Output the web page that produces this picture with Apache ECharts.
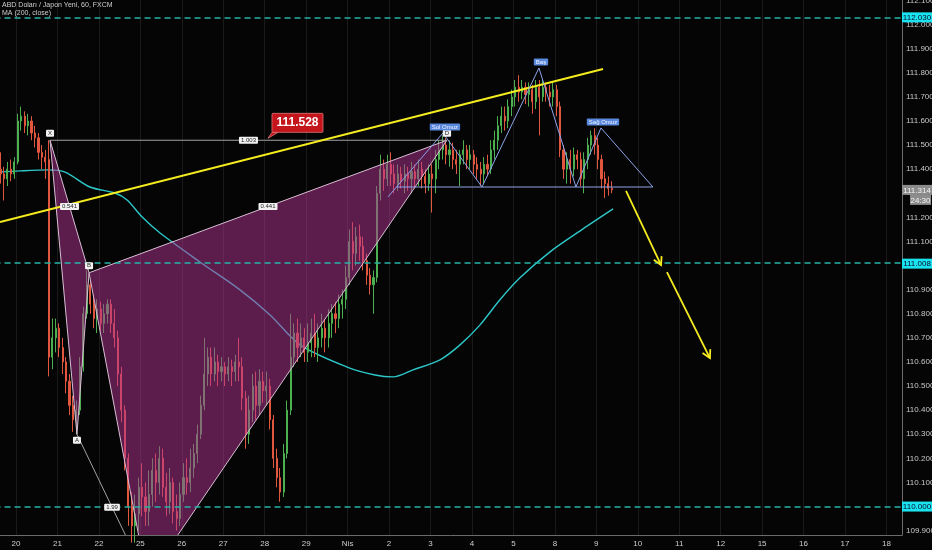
<!DOCTYPE html>
<html><head><meta charset="utf-8">
<script src="https://cdn.jsdelivr.net/npm/echarts@6/dist/echarts.min.js"></script>
<style>html,body{margin:0;padding:0;background:#050505;}#c{width:932px;height:550px;}</style>
</head><body><div id="c"></div>
<script>
const FONT = '"Liberation Sans", Arial, sans-serif';
const dayLabels = ['20','21','22','25','26','27','28','29','Nis','2','3','4','5','8','9','10','11','12','15','16','17','18'];
const priceTicks = [109.9,110.0,110.1,110.2,110.3,110.4,110.5,110.6,110.7,110.8,110.9,111.0,111.1,111.2,111.3,111.4,111.5,111.6,111.7,111.8,111.9,112.0,112.1];
const candleStartHour = -9, candleHours = 2;
// [open, close, low, high]
const candleOHLC = [
[111.40,111.38,111.34,111.47],[111.38,111.36,111.27,111.41],[111.36,111.40,111.33,111.43],[111.40,111.38,111.35,111.44],
[111.38,111.43,111.36,111.45],[111.43,111.60,111.42,111.63],[111.60,111.62,111.56,111.66],[111.62,111.58,111.55,111.64],
[111.58,111.60,111.54,111.63],[111.60,111.55,111.52,111.62],[111.55,111.53,111.49,111.58],[111.53,111.47,111.44,111.55],
[111.47,111.45,111.40,111.50],[111.45,111.43,111.36,111.48],[111.44,110.62,110.54,111.52],[110.62,110.70,110.57,110.78],
[110.70,110.74,110.64,110.78],[110.74,110.66,110.62,110.76],[110.66,110.60,110.55,110.70],[110.60,110.52,110.47,110.62],
[110.52,110.42,110.38,110.55],[110.42,110.36,110.31,110.46],[110.36,110.40,110.30,110.44],[110.40,110.58,110.38,110.62],
[110.58,110.80,110.56,110.83],[110.80,110.92,110.78,110.98],[110.92,110.84,110.80,110.94],[110.84,110.78,110.74,110.88],
[110.78,110.82,110.72,110.86],[110.82,110.76,110.73,110.85],[110.76,110.80,110.72,110.84],[110.80,110.84,110.76,110.86],
[110.84,110.76,110.72,110.86],[110.76,110.70,110.66,110.82],[110.70,110.55,110.50,110.73],[110.55,110.40,110.35,110.58],
[110.40,110.20,110.15,110.42],[110.20,110.00,109.92,110.22],[110.00,109.92,109.85,110.06],[109.92,109.97,109.85,110.05],
[109.97,110.08,109.90,110.12],[110.08,110.04,109.96,110.18],[110.04,109.98,109.92,110.10],[109.98,110.05,109.92,110.15],
[110.05,110.15,110.00,110.20],[110.15,110.10,110.02,110.22],[110.10,110.20,110.05,110.25],[110.20,110.08,110.04,110.24],
[110.08,110.02,109.96,110.14],[110.02,110.10,109.97,110.16],[110.10,109.98,109.93,110.12],[109.98,109.95,109.90,110.05],
[109.95,110.05,109.92,110.10],[110.05,110.12,110.02,110.18],[110.12,110.10,110.05,110.20],[110.10,110.16,110.06,110.24],
[110.16,110.22,110.12,110.26],[110.22,110.30,110.18,110.34],[110.30,110.42,110.28,110.46],[110.42,110.55,110.40,110.70],
[110.55,110.62,110.50,110.66],[110.62,110.55,110.50,110.66],[110.55,110.60,110.52,110.66],[110.60,110.56,110.50,110.63],
[110.56,110.58,110.52,110.62],[110.58,110.55,110.50,110.60],[110.55,110.58,110.52,110.62],[110.58,110.56,110.50,110.61],
[110.56,110.60,110.52,110.63],[110.60,110.58,110.52,110.70],[110.58,110.45,110.40,110.62],[110.45,110.30,110.24,110.48],
[110.30,110.40,110.26,110.46],[110.40,110.50,110.35,110.55],[110.50,110.42,110.36,110.56],[110.42,110.52,110.38,110.57],
[110.52,110.48,110.43,110.56],[110.48,110.50,110.42,110.56],[110.50,110.36,110.32,110.53],[110.36,110.20,110.16,110.38],
[110.20,110.12,110.08,110.24],[110.12,110.06,110.02,110.16],[110.06,110.22,110.04,110.26],[110.22,110.40,110.20,110.44],
[110.40,110.62,110.38,110.80],[110.62,110.72,110.58,110.76],[110.72,110.66,110.60,110.78],[110.66,110.70,110.62,110.76],
[110.70,110.64,110.60,110.74],[110.64,110.68,110.60,110.76],[110.68,110.72,110.62,110.78],[110.72,110.66,110.62,110.80],
[110.66,110.70,110.60,110.76],[110.70,110.74,110.66,110.80],[110.74,110.70,110.64,110.78],[110.70,110.76,110.66,110.82],
[110.76,110.80,110.70,110.84],[110.80,110.78,110.72,110.85],[110.78,110.84,110.74,110.88],[110.84,110.86,110.78,110.90],
[110.86,110.95,110.82,111.00],[110.95,111.10,110.92,111.15],[111.10,111.05,110.98,111.18],[111.05,111.12,111.00,111.16],
[111.12,111.08,111.02,111.17],[111.08,111.02,110.98,111.12],[111.02,110.96,110.92,111.05],[110.96,110.92,110.88,110.99],
[110.92,110.95,110.80,110.98],[110.95,111.30,110.93,111.33],[111.30,111.40,111.27,111.46],[111.40,111.36,111.31,111.44],
[111.36,111.42,111.33,111.46],[111.42,111.38,111.33,111.47],[111.38,111.34,111.30,111.42],[111.34,111.38,111.31,111.42],
[111.38,111.35,111.32,111.41],[111.35,111.38,111.30,111.42],[111.38,111.36,111.31,111.41],[111.36,111.39,111.30,111.43],
[111.39,111.36,111.32,111.42],[111.36,111.40,111.33,111.44],[111.40,111.37,111.32,111.43],[111.37,111.34,111.30,111.40],
[111.34,111.38,111.31,111.42],[111.38,111.36,111.22,111.42],[111.36,111.44,111.30,111.48],[111.44,111.48,111.40,111.52],
[111.48,111.50,111.44,111.54],[111.50,111.46,111.42,111.53],[111.46,111.48,111.41,111.52],[111.48,111.44,111.40,111.51],
[111.44,111.42,111.38,111.48],[111.42,111.46,111.33,111.48],[111.46,111.48,111.42,111.52],[111.48,111.44,111.40,111.50],
[111.44,111.46,111.40,111.50],[111.46,111.42,111.38,111.48],[111.42,111.40,111.36,111.45],[111.40,111.38,111.33,111.43],
[111.38,111.42,111.34,111.45],[111.42,111.40,111.37,111.46],[111.40,111.48,111.38,111.52],[111.48,111.52,111.44,111.56],
[111.52,111.58,111.48,111.62],[111.58,111.62,111.55,111.66],[111.62,111.60,111.56,111.66],[111.60,111.66,111.57,111.69],
[111.66,111.70,111.62,111.73],[111.70,111.74,111.66,111.77],[111.74,111.72,111.68,111.79],[111.72,111.74,111.69,111.77],
[111.74,111.71,111.67,111.76],[111.71,111.73,111.66,111.76],[111.73,111.68,111.63,111.75],[111.68,111.74,111.65,111.77],
[111.74,111.70,111.54,111.77],[111.70,111.74,111.68,111.77],[111.74,111.72,111.68,111.76],[111.72,111.70,111.66,111.75],
[111.70,111.73,111.66,111.76],[111.73,111.66,111.62,111.75],[111.66,111.48,111.45,111.68],[111.48,111.40,111.36,111.50],
[111.40,111.44,111.34,111.47],[111.44,111.40,111.34,111.48],[111.40,111.46,111.37,111.49],[111.46,111.44,111.40,111.48],
[111.44,111.36,111.33,111.47],[111.36,111.44,111.30,111.47],[111.44,111.50,111.40,111.53],[111.50,111.54,111.46,111.56],
[111.54,111.50,111.46,111.57],[111.50,111.44,111.40,111.53],[111.44,111.36,111.32,111.46],[111.36,111.34,111.28,111.39],
[111.34,111.32,111.29,111.37],[111.32,111.314,111.30,111.35]
];
const maTimes  = [-9.26, 2.3, 18.5, 28.4, 42.8, 57.3, 64.3, 73.5, 83.4, 106.5, 129.7, 147.1, 164.5, 191.7, 207.9, 218.3, 229.9, 245.5, 257.1, 268.7, 280.2, 291.8, 309.2, 328.3, 345.7];
const maValues = [111.388,111.393,111.397,111.388,111.326,111.301,111.272,111.198,111.135,111.015,110.899,110.795,110.671,110.579,110.546,110.538,110.567,110.609,110.671,110.754,110.858,110.949,111.057,111.152,111.235];
const levelPrices = [112.030, 111.008, 110.000];
const lastPrice = 111.314;
const countdown = '24:30';
const trendTimes = [-9.26, 339.9];
const trendPrices = [111.181, 111.816];
const xabcdNames = ['X','A','B','C','D'];
const xabcdTimes = [19.7, 35.3, 42.3, 75.9, 249.5];
const xabcdPrices = [111.52, 110.30, 110.97, 109.695, 111.52];
const ratioTexts = ['0.541','1.003','0.441','1.99'];
const hsTimes  = [215.4, 247.2, 269.8, 302.8, 324.2, 338.7, 368.8];
const hsPrices = [111.285, 111.550, 111.326, 111.820, 111.326, 111.571, 111.326];
const neckTimes = [220.6, 368.8];
const neckPrice = 111.326;
const hsNames = ['Sol Omuz','Baş','Sağ Omuz'];
const arrowFromTimes = [353.2, 376.9];
const arrowFromPrices = [111.310, 110.973];
const arrowToTimes = [373.5, 401.8];
const arrowToPrices = [111.002, 110.616];
const calloutTime = 145.9, calloutValue = 111.528;

const chart = echarts.init(document.getElementById('c'), null, {renderer:'canvas'});

function boxText(x, y, text, bg, fg, fs) {
  return {type:'text', x:x, y:y, z2:20, style:{text:text, fill:fg, backgroundColor:bg, padding:[1,2,0,2],
    fontSize:fs, fontFamily:FONT, align:'center', verticalAlign:'middle', borderRadius:1}};
}
function clipRect(params){ const c=params.coordSys; return {type:'rect', shape:{x:c.x,y:c.y,width:c.width,height:c.height}}; }

const candleData = candleOHLC.map((d,i)=>[candleStartHour + candleHours*i, d[0], d[1], d[2], d[3]]);
const pairIdx = [[0,2],[0,4],[2,4],[1,3]];
const placeBelow = [false,true,false,true,false];

const option = {
  backgroundColor:'#050505',
  animation:false,
  title:{text:'ABD Doları / Japon Yeni, 60, FXCM', subtext:'MA (200, close)', left:2, top:2, itemGap:1, padding:0,
    textStyle:{fontSize:7, color:'#cfcfcf', fontWeight:'normal', fontFamily:FONT},
    subtextStyle:{fontSize:7, color:'#cfcfcf', fontFamily:FONT}},
  grid:{left:-25.45, right:30, top:0, bottom:15, containLabel:false, outerBoundsMode:'none'},
  xAxis:{type:'value', min:-24, max:513, interval:24,
    axisLine:{show:true, onZero:false, lineStyle:{color:'#6b6b6b'}}, axisTick:{show:false},
    axisLabel:{color:'#cdcdcd', fontSize:8, margin:5, fontFamily:FONT, showMinLabel:true, showMaxLabel:false,
      formatter:function(v){ const k=Math.round(v/24); return (k>=0 && k<dayLabels.length && Math.abs(v-24*k)<1e-6)? dayLabels[k] : ''; }},
    splitLine:{show:true, lineStyle:{color:'#1a1a1a', width:1}}},
  yAxis:{type:'value', position:'right', min:109.882, max:112.102,
    axisLine:{show:true, onZero:false, lineStyle:{color:'#6b6b6b'}}, axisTick:{show:false}, splitLine:{show:false},
    axisLabel:{customValues:priceTicks, formatter:function(v){return v.toFixed(3);}, color:'#c8c8c8', fontSize:8, margin:4, fontFamily:FONT}},
  series:[
    {type:'candlestick', z:2, data:candleData, encode:{x:0, y:[1,2,3,4]}, barWidth:1.6, clip:true,
      itemStyle:{color:'#4caf50', color0:'#e0563f', borderColor:'#4caf50', borderColor0:'#e0563f', borderWidth:1}},
    {type:'line', z:2, data:maTimes.map((t,i)=>[t,maValues[i]]), symbol:'none', smooth:0.3,
      lineStyle:{color:'#2ec7c9', width:1.4}, silent:true,
      markLine:{silent:true, symbol:'none', label:{show:false},
        lineStyle:{type:[6,4], color:'#27b3a6', width:1.5},
        data:levelPrices.map(v=>({yAxis:v}))}},
    {type:'custom', z:3, data:[[xabcdTimes[0], xabcdPrices[0]]], silent:true,
      renderItem:function(params, api){
        const P = xabcdTimes.map((t,i)=>api.coord([t, xabcdPrices[i]]));
        const tri = (a,b,c)=>({type:'polygon', shape:{points:[P[a],P[b],P[c]]},
          style:{fill:'rgba(180,52,148,0.5)', stroke:'#d9bfd5', lineWidth:1}});
        return {type:'group', clipPath:clipRect(params), children:[tri(0,1,2), tri(2,3,4),
          {type:'line', shape:{x1:P[0][0],y1:P[0][1],x2:P[4][0],y2:P[4][1]}, style:{stroke:'#a3a3a3', lineWidth:1}},
          {type:'line', shape:{x1:P[1][0],y1:P[1][1],x2:P[3][0],y2:P[3][1]}, style:{stroke:'#a3a3a3', lineWidth:1}}
        ]};
      }},
    {type:'line', z:4, data:trendTimes.map((t,i)=>[t,trendPrices[i]]), symbol:'none', silent:true,
      lineStyle:{color:'#f4ec1f', width:2}},
    {type:'line', z:4, data:hsTimes.map((t,i)=>[t,hsPrices[i]]), symbol:'none', silent:true,
      lineStyle:{color:'#8ea4ea', width:1}},
    {type:'line', z:4, data:neckTimes.map(t=>[t,neckPrice]), symbol:'none', silent:true,
      lineStyle:{color:'#8ea4ea', width:1}},
    {type:'custom', z:6, data:[[xabcdTimes[0], xabcdPrices[0]]], silent:true,
      renderItem:function(params, api){
        const P = xabcdTimes.map((t,i)=>api.coord([t, xabcdPrices[i]]));
        const kids = [];
        P.forEach((p,i)=>kids.push(boxText(p[0], p[1] + (placeBelow[i]? 6 : -7), xabcdNames[i], '#f2f2f2', '#222', 6)));
        pairIdx.forEach((pr,k)=>{ const a=P[pr[0]], b=P[pr[1]];
          kids.push(boxText((a[0]+b[0])/2, (a[1]+b[1])/2, ratioTexts[k], '#f2f2f2', '#222', 6)); });
        const H = hsTimes.map((t,i)=>api.coord([t, hsPrices[i]]));
        [1,3,5].forEach((j,k)=>kids.push(boxText(H[j][0]+2, H[j][1]-6, hsNames[k], '#5a88dc', '#eef3ff', 6)));
        return {type:'group', clipPath:clipRect(params), children:kids};
      }},
    {type:'custom', z:6, data:[[arrowToTimes[0], arrowToPrices[0]]], silent:true,
      renderItem:function(params, api){
        const kids=[];
        arrowFromTimes.forEach((t,k)=>{
          const a=api.coord([t, arrowFromPrices[k]]), b=api.coord([arrowToTimes[k], arrowToPrices[k]]);
          const ang=Math.atan2(b[1]-a[1], b[0]-a[0]), L=9, w=0.5;
          const st={stroke:'#f4ec1f', lineWidth:1.8};
          kids.push({type:'line', shape:{x1:a[0],y1:a[1],x2:b[0],y2:b[1]}, style:st});
          kids.push({type:'polyline', shape:{points:[[b[0]-L*Math.cos(ang-w), b[1]-L*Math.sin(ang-w)], b, [b[0]-L*Math.cos(ang+w), b[1]-L*Math.sin(ang+w)]]}, style:Object.assign({fill:null},st)});
        });
        return {type:'group', children:kids};
      }},
    {type:'custom', z:7, data:[[calloutTime, calloutValue]], silent:true,
      renderItem:function(params, api){
        const p=api.coord([calloutTime, calloutValue]);
        return {type:'group', children:[
          {type:'polygon', shape:{points:[[p[0],p[1]],[p[0]+4,p[1]-6],[p[0]+10,p[1]-6]]}, style:{fill:'#c4141c', stroke:'#e07a7a', lineWidth:0.8}},
          {type:'rect', shape:{x:p[0]+4, y:p[1]-25, width:51, height:19, r:1}, style:{fill:'#c4141c', stroke:'#e07a7a', lineWidth:0.8}},
          {type:'text', x:p[0]+29.5, y:p[1]-15.2, style:{text:calloutValue.toFixed(3), fill:'#ffffff', fontSize:12, fontWeight:'bold', fontFamily:FONT, align:'center', verticalAlign:'middle'}}
        ]};
      }},
    {type:'custom', z:10, data:[[0, lastPrice]], silent:true, clip:false,
      renderItem:function(params, api){
        const c=params.coordSys, xr=c.x+c.width;
        const kids=[];
        const tag=(v, text, bg, fg, dx, w)=>{ const y=api.coord([0,v])[1];
          kids.push({type:'rect', shape:{x:xr+dx, y:y-5, width:w, height:10}, style:{fill:bg}});
          kids.push({type:'text', x:xr+dx+w/2, y:y+0.5, style:{text:text, fill:fg, fontSize:8, fontFamily:FONT, align:'center', verticalAlign:'middle'}}); };
        levelPrices.forEach(v=>tag(v, v.toFixed(3), '#19e3ee', '#0a0a2a', 0, 30));
        tag(lastPrice, lastPrice.toFixed(3), '#8c8c8c', '#f4f4f4', 0, 30);
        const y=api.coord([0,lastPrice])[1]+10;
        kids.push({type:'rect', shape:{x:xr+8, y:y-5, width:21, height:10}, style:{fill:'#8c8c8c'}});
        kids.push({type:'text', x:xr+18.5, y:y+0.5, style:{text:countdown, fill:'#f4f4f4', fontSize:8, fontFamily:FONT, align:'center', verticalAlign:'middle'}});
        return {type:'group', children:kids};
      }}
  ]
};
chart.setOption(option);
</script>
</body></html>
